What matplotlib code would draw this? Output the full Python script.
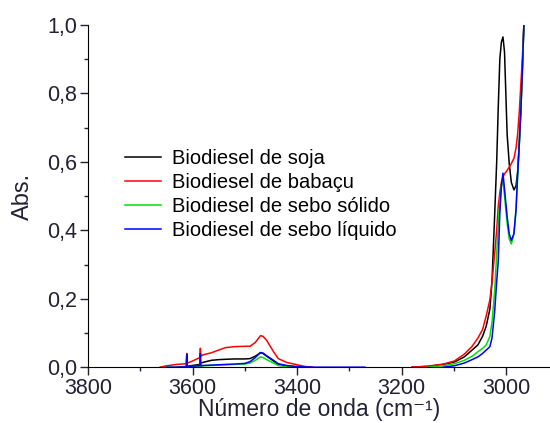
import numpy as np
import matplotlib
matplotlib.use("Agg")
import matplotlib.pyplot as plt
from matplotlib.ticker import MultipleLocator, FuncFormatter

plt.rcParams['font.family'] = ['Liberation Sans', 'DejaVu Sans']

# banda O-H (3660-3270 cm-1)
wn_oh = [3662, 3650, 3630, 3612, 3611, 3610, 3608, 3600, 3586, 3585, 3584, 3580, 3564, 3550,
         3537, 3520, 3500, 3490, 3480, 3470, 3465, 3458, 3445, 3436, 3420, 3400, 3385, 3370, 3320, 3270]
soja_oh = [np.nan, np.nan, 0.0, 0.002, 0.002, 0.002, 0.003, 0.005, 0.008, 0.01, 0.012, 0.014, 0.02, 0.022,
           0.023, 0.024, 0.024, 0.025, 0.032, 0.042, 0.04, 0.032, 0.018, 0.008, 0.003, 0.0, 0.0, np.nan, np.nan, np.nan]
babacu_oh = [0.0, 0.004, 0.008, 0.01, 0.04, 0.012, 0.013, 0.018, 0.028, 0.055, 0.032, 0.036, 0.042, 0.05,
             0.057, 0.06, 0.061, 0.061, 0.072, 0.092, 0.09, 0.078, 0.045, 0.025, 0.014, 0.007, 0.002, 0.0, np.nan, np.nan]
sebo_s_oh = [np.nan, 0.0, 0.0, 0.001, 0.02, 0.001, 0.001, 0.002, 0.003, 0.03, 0.003, 0.004, 0.005, 0.006,
             0.007, 0.008, 0.009, 0.012, 0.02, 0.03, 0.028, 0.022, 0.012, 0.005, 0.001, 0.0, 0.0, np.nan, np.nan, np.nan]
sebo_l_oh = [np.nan, 0.0, 0.0, 0.001, 0.038, 0.002, 0.002, 0.003, 0.004, 0.04, 0.004, 0.005, 0.006, 0.007,
             0.008, 0.009, 0.011, 0.016, 0.028, 0.043, 0.041, 0.033, 0.02, 0.01, 0.005, 0.002, 0.001, 0.0, 0.0, 0.0]

# banda C-H (3180-2966 cm-1)
wn_ch = [3180, 3150, 3120, 3099, 3080, 3065, 3054, 3045, 3038, 3031, 3027, 3022, 3018, 3015, 3012,
         3009, 3006, 3003, 2998, 2994, 2990, 2985, 2981, 2978, 2975, 2972, 2969, 2966]
soja_ch = [0.0, 0.002, 0.008, 0.015, 0.03, 0.05, 0.065, 0.09, 0.12, 0.17, 0.25, 0.44, 0.6, 0.76, 0.9,
           0.95, 0.965, 0.92, 0.68, 0.595, 0.54, 0.518, 0.53, 0.57, 0.65, 0.75, 0.87, 1.0]
babacu_ch = [0.0, 0.003, 0.009, 0.018, 0.038, 0.061, 0.085, 0.11, 0.15, 0.197, 0.25, 0.33, 0.4, 0.47, 0.51,
             0.54, 0.555, 0.565, 0.575, 0.585, 0.595, 0.61, 0.64, 0.68, 0.74, 0.82, 0.9, 1.0]
sebo_s_ch = [np.nan, 0.0, 0.004, 0.01, 0.02, 0.032, 0.045, 0.055, 0.065, 0.09, 0.13, 0.22, 0.33, 0.42, 0.48,
             0.53, 0.545, 0.5, 0.42, 0.375, 0.36, 0.39, 0.46, 0.56, 0.64, 0.74, 0.85, 1.0]
sebo_l_ch = [np.nan, np.nan, 0.0, 0.004, 0.012, 0.022, 0.03, 0.04, 0.05, 0.06, 0.085, 0.16, 0.25, 0.31, 0.45,
             0.53, 0.567, 0.52, 0.44, 0.39, 0.37, 0.39, 0.46, 0.56, 0.645, 0.74, 0.86, 1.0]

nomes = ['Biodiesel de soja', 'Biodiesel de babaçu', 'Biodiesel de sebo sólido', 'Biodiesel de sebo líquido']
cores = ['black', 'red', '#00e000', 'blue']

gap = [np.nan]
wn = wn_oh + [3220] + wn_ch
series = [soja_oh + gap + soja_ch, babacu_oh + gap + babacu_ch,
          sebo_s_oh + gap + sebo_s_ch, sebo_l_oh + gap + sebo_l_ch]

fig = plt.figure(figsize=(5.5, 4.23), dpi=100)
ax = fig.add_axes([0.16, 0.132, 0.84, 0.809])

for y, nome, cor in zip(series, nomes, cores):
    ax.plot(wn, y, color=cor, lw=1.1, label=nome)

ax.set_xlim(3800, 2916)
ax.set_ylim(0, 1.0)
ax.spines['top'].set_visible(False)
ax.spines['right'].set_visible(False)
ax.xaxis.set_major_locator(MultipleLocator(200))
ax.xaxis.set_minor_locator(MultipleLocator(100))
ax.yaxis.set_major_locator(MultipleLocator(0.2))
ax.yaxis.set_minor_locator(MultipleLocator(0.1))
ax.yaxis.set_major_formatter(FuncFormatter(lambda v, p: f'{v:.1f}'.replace('.', ',')))
ax.tick_params(which='major', length=6, width=1, labelsize=15.5, colors='#222233', pad=2)
ax.tick_params(which='minor', length=3, width=1, colors='#222233')
ax.set_xlabel('Número de onda (cm⁻¹)', fontsize=16.5, labelpad=-1, color='#222233')
ax.set_ylabel('Abs.', fontsize=17, labelpad=9, color='#222233')

ax.legend(loc='upper left', bbox_to_anchor=(0.062, 0.66), frameon=False, fontsize=14.5,
          handlelength=1.8, handletextpad=0.55, labelspacing=0.25, borderaxespad=0)

fig.savefig('out.png', dpi=100)
